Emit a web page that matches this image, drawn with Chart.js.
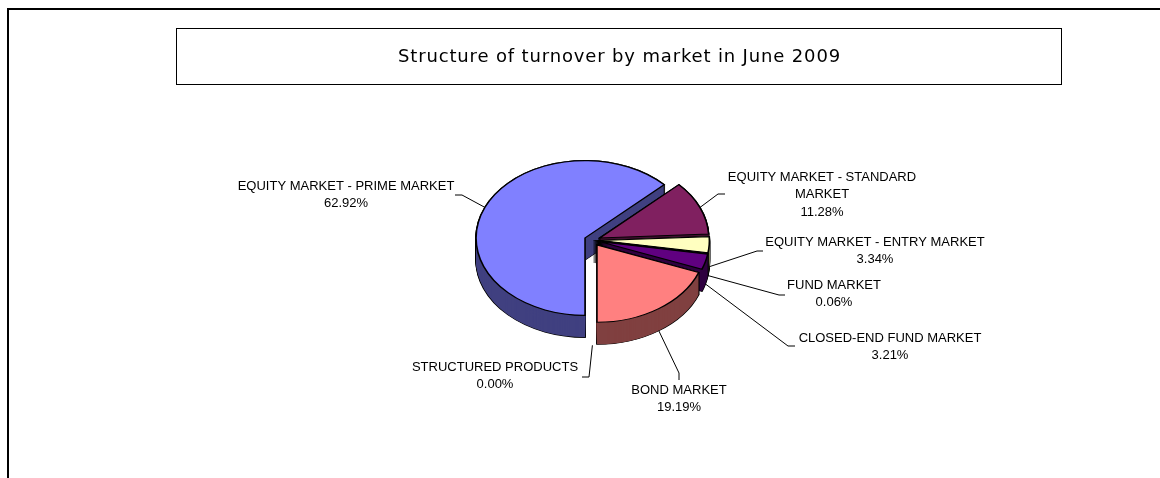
<!DOCTYPE html>
<html>
<head>
<meta charset="utf-8">
<title>Structure of turnover by market in June 2009</title>
<script src="https://cdn.jsdelivr.net/npm/chart.js@4"></script>
<style>
    html, body { margin: 0; padding: 0; background: #fff; overflow: hidden; }
    canvas { display: block; }
</style>
</head>
<body>
<canvas id="grafico" width="1160" height="478"></canvas>
<script>
const titulo = 'Structure of turnover by market in June 2009';
const categorias = ['EQUITY MARKET - PRIME MARKET', 'EQUITY MARKET - STANDARD MARKET', 'EQUITY MARKET - ENTRY MARKET', 'FUND MARKET', 'CLOSED-END FUND MARKET', 'BOND MARKET', 'STRUCTURED PRODUCTS'];
const valores = [62.92, 11.28, 3.34, 0.06, 3.21, 19.19, 0.00];
const cores = ['#8080FF', '#802060', '#FFFFC0', '#A0E0E0', '#600080', '#FF8080', '#0080C0'];
const coresLado = ['#404080', '#401030', '#808060', '#507070', '#300040', '#804040', '#004060'];

// where the leader line bends and ends, and the centre of the label
const cotovelos = [[462, 195, 455, 195], [718, 194, 725, 194], [757, 251, 763, 251], [779, 295, 785, 295], [788, 346, 795, 346], [679, 373, 679, 380], [589, 377, 582, 377]];
const posLabel = [[346, 186], [822, 177], [875, 242], [834, 285], [890, 338], [679, 390], [495, 367]];

const centroX = 592.4;
const centroY = 240.2;
const raio = 109;
const achatar = 0.71;
const fundo = 22;
const explodir = 8;

function desenharFatia(ctx, arco, d, opcoes) {
    const meio = (arco.startAngle + arco.endAngle) / 2;
    const original = arco.options;
    ctx.save();
    ctx.translate(centroX + Math.cos(meio) * explodir, centroY + Math.sin(meio) * explodir * achatar + d);
    ctx.scale(1, achatar);
    ctx.translate(-arco.x, -arco.y);
    arco.options = Object.assign({}, original, opcoes);
    arco.draw(ctx);
    arco.options = original;
    ctx.restore();
}

function quebrarTexto(ctx, texto) {
    if (ctx.measureText(texto).width < 235) {
        return [texto];
    }
    const palavras = texto.split(' ');
    const ultima = palavras.pop();
    return [palavras.join(' '), ultima];
}

const pizza3d = {
    id: 'pizza3d',
    beforeDraw(chart) {
        const ctx = chart.ctx;
        ctx.save();
        ctx.strokeStyle = '#000';
        ctx.lineWidth = 2;
        ctx.beginPath();
        ctx.moveTo(8, 478);
        ctx.lineTo(8, 9);
        ctx.lineTo(1160, 9);
        ctx.stroke();
        ctx.lineWidth = 1;
        ctx.strokeRect(176.5, 28.5, 885, 56);
        ctx.restore();
        // title is stretched in the original
        ctx.letterSpacing = '0.85px';
    },
    beforeDatasetDraw(chart) {
        const ctx = chart.ctx;
        const arcos = chart.getDatasetMeta(0).data;

        arcos.forEach((arco, i) => {
            for (let d = fundo; d >= 0; d--) {
                desenharFatia(ctx, arco, d, { backgroundColor: '#000', borderColor: '#000', borderWidth: 1.6 });
            }
            for (let d = fundo; d >= 0; d--) {
                desenharFatia(ctx, arco, d, { backgroundColor: coresLado[i], borderWidth: 0 });
            }
            desenharFatia(ctx, arco, 0, {});
        });

        // leader lines and labels
        ctx.save();
        ctx.letterSpacing = '0px';
        ctx.font = '13px "Liberation Sans"';
        ctx.fillStyle = '#000';
        ctx.strokeStyle = '#000';
        ctx.lineWidth = 1;
        ctx.textAlign = 'center';
        ctx.textBaseline = 'middle';
        arcos.forEach((arco, i) => {
            const meio = (arco.startAngle + arco.endAngle) / 2;
            const x = centroX + Math.cos(meio) * (explodir + raio);
            let y = centroY + Math.sin(meio) * (explodir + raio) * achatar;
            if (Math.sin(meio) > 0) {
                y += fundo;
            }
            const c = cotovelos[i];
            ctx.beginPath();
            ctx.moveTo(x, y);
            ctx.lineTo(c[0], c[1]);
            ctx.lineTo(c[2], c[3]);
            ctx.stroke();

            const linhas = quebrarTexto(ctx, categorias[i]);
            linhas.push(valores[i].toFixed(2) + '%');
            linhas.forEach((t, n) => {
                ctx.fillText(t, posLabel[i][0], posLabel[i][1] + n * 17.5);
            });
        });
        ctx.restore();
        return false;
    }
};

new Chart(document.getElementById('grafico'), {
    type: 'pie',
    data: {
        labels: categorias,
        datasets: [{
            data: valores,
            backgroundColor: cores,
            borderColor: '#000',
            borderWidth: 1.6,
            borderJoinStyle: 'miter',
            offset: 0
        }]
    },
    options: {
        responsive: false,
        animation: false,
        rotation: 180,
        radius: raio,
        layout: { padding: { left: 79 } },
        plugins: {
            legend: { display: false },
            tooltip: { enabled: false },
            title: {
                display: true,
                text: titulo,
                fullSize: false,
                color: '#000',
                font: { family: '"DejaVu Sans"', size: 18, weight: 'normal' },
                padding: { top: 47, bottom: 0 }
            }
        }
    },
    plugins: [pizza3d]
});
</script>
</body>
</html>
